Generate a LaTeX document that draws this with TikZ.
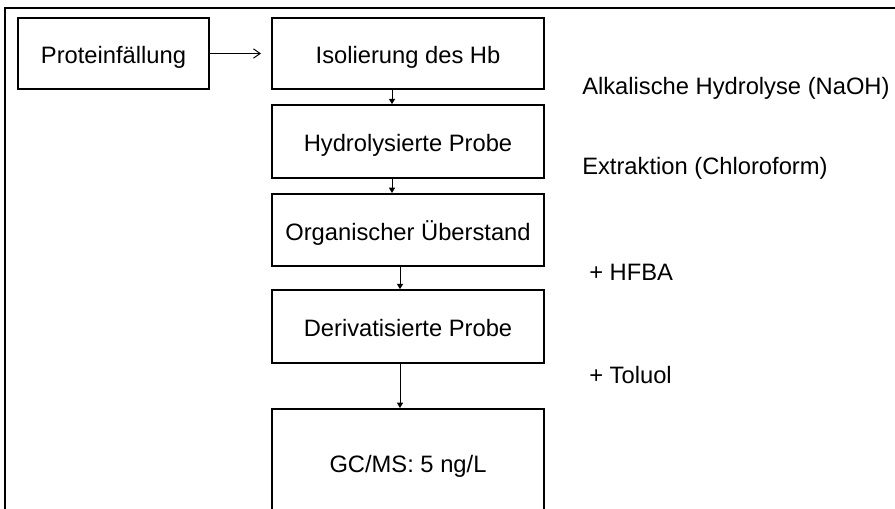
\documentclass[tikz,border=0pt]{standalone}
\usepackage{fontspec}
\setmainfont{Liberation Sans}
\usetikzlibrary{arrows.meta}

\begin{document}
\begin{tikzpicture}[%
  x=0.75pt, y=-0.75pt,
  >={Triangle[length=4pt,width=4.5pt]},
  font=\fontsize{17.8}{21}\selectfont,
  kasten/.style={draw, line width=1.5pt, inner sep=0pt,
    text height=15pt, text depth=0pt,
    minimum width=204pt, minimum height=54.5pt},
  pfeil/.style={->, line width=0.75pt}
]

  \useasboundingbox (0,0) rectangle (895,508);
  \clip (0,0) rectangle (895,508);

  % outer frame
  \draw[line width=1.5pt] (5,520) -- (5,8) -- (910,8);

  \node[kasten, minimum width=143.25pt, minimum height=53.25pt] (prot) at (113.5,53.5) {Proteinfällung};

  \node[kasten, minimum height=53.25pt] (iso) at (408,53.5) {Isolierung des Hb};
  \node[kasten] (hyd) at (408,141.5) {Hydrolysierte Probe};
  \node[kasten, minimum height=54pt] (org) at (408,230) {Organischer Überstand};
  \node[kasten] (der) at (408,326.5) {Derivatisierte Probe};
  \node[kasten, minimum height=79.5pt] (gcms) at (408,462) {GC/MS: 5 ng/L};

  \draw[line width=0.75pt, -{Straight Barb[length=5pt,width=7pt]}, shorten >=7.5pt]
    (prot.east) -- (iso.west);

  \draw[pfeil] ([xshift=-12pt]iso.south) -- ([xshift=-12pt]hyd.north);
  \draw[pfeil] ([xshift=-12pt]hyd.south) -- ([xshift=-12pt]org.north);
  \draw[pfeil] ([xshift=-6pt]org.south) -- ([xshift=-6pt]der.north);
  \draw[pfeil] ([xshift=-6pt]der.south) -- ([xshift=-6pt]gcms.north);

  \node[anchor=west, inner sep=0pt] (naoh) at (582,88) {Alkalische Hydrolyse (NaOH)};
  \node[anchor=west, inner sep=0pt] (chl) at (582,168) {Extraktion (Chloroform)};
  \node[anchor=west, inner sep=0pt] (hfba) at (589,272) {+ HFBA};
  \node[anchor=west, inner sep=0pt] (tol) at (589,375) {+ Toluol};

\end{tikzpicture}
\end{document}
